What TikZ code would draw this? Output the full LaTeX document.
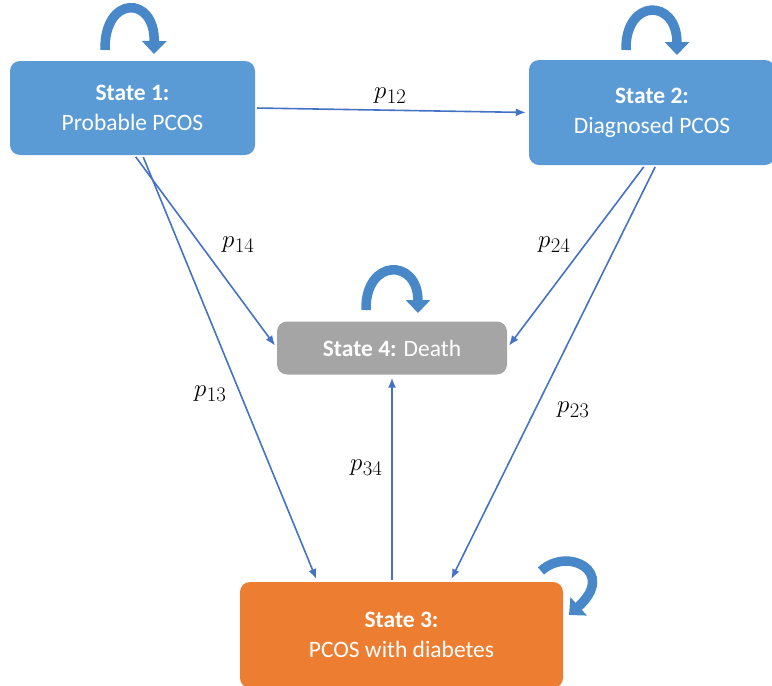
\documentclass[tikz,border=0pt]{standalone}
\usepackage{fontspec}
\setmainfont{Carlito}
\usetikzlibrary{arrows.meta,calc}

\definecolor{boxblue}{RGB}{91,155,213}
\definecolor{boxgray}{RGB}{165,165,165}
\definecolor{boxorange}{RGB}{237,125,49}
\definecolor{linkblue}{RGB}{68,114,196}
\definecolor{loopblue}{RGB}{72,136,200}

\newcommand{\prob}[1]{$p$\kern0.5pt\raisebox{-5pt}{\fontsize{20}{22}\selectfont$#1$}}

\begin{document}
\begin{tikzpicture}[x=1pt,y=1pt,yscale=-1,
	state/.style={rounded corners=10pt, text=white, align=center, inner sep=0pt, font=\fontsize{23.5}{30}\selectfont},
	trans/.style={draw=linkblue, line width=1.6pt, shorten >=3pt, shorten <=2pt, -{Latex[length=10pt,width=8pt]}},
	selfloop/.style={draw=loopblue, line width=9.5pt, -{Triangle[length=13pt,width=24pt]}},
	plabel/.style={font=\fontsize{26}{28}\selectfont, inner sep=0pt}]
	\useasboundingbox (0,0) rectangle (772,686);
	% states
	\node [state, fill=boxblue, minimum width=245pt, minimum height=94pt] (s1) at (132.5,108) {\textbf{State 1:}\\Probable PCOS};
	\node [state, fill=boxblue, minimum width=246pt, minimum height=105pt] (s2) at (652,112.5) {\textbf{State 2:}\\Diagnosed PCOS};
	\node [state, fill=boxgray, minimum width=230pt, minimum height=53pt] (s4) at (392,348) {\textbf{State 4:} Death};
	\node [state, fill=boxorange, minimum width=323pt, minimum height=106pt] (s3) at (401.5,635) {\textbf{State 3:}\\PCOS with diabetes};
	% self loops
	\draw [selfloop] (105,50) .. controls (104,-5) and (155,-5) .. (154,54);
	\draw [selfloop] (626,50) .. controls (625,-2) and (677,-2) .. (677,55);
	\draw [selfloop] (366,310) .. controls (365,258) and (418,258) .. (418,313);
	\draw [selfloop] (541,571) .. controls (568,546) and (617,572) .. (569,615);
	% transitions
	\draw [trans] (s1.east) -- (s2.west);
	\draw [trans] ([xshift=2pt]s1.south) -- (s4.west);
	\draw [trans] ([xshift=10pt]s1.south) -- ($(s3.north west)!0.24!(s3.north east)$);
	\draw [trans] ([xshift=-7pt]s2.south) -- (s4.east);
	\draw [trans] ([xshift=4pt]s2.south) -- ($(s3.north west)!0.65!(s3.north east)$);
	\draw [trans] (s3.north -| s4.south) -- (s4.south);
	% labels
	\node [plabel] (l12) at (390,96) {\prob{12}};
	\node [plabel] (l14) at (238,245) {\prob{14}};
	\node [plabel] (l13) at (210,394) {\prob{13}};
	\node [plabel] (l24) at (554,245) {\prob{24}};
	\node [plabel] (l23) at (573,410) {\prob{23}};
	\node [plabel] (l34) at (366,468) {\prob{34}};
\end{tikzpicture}
\end{document}
